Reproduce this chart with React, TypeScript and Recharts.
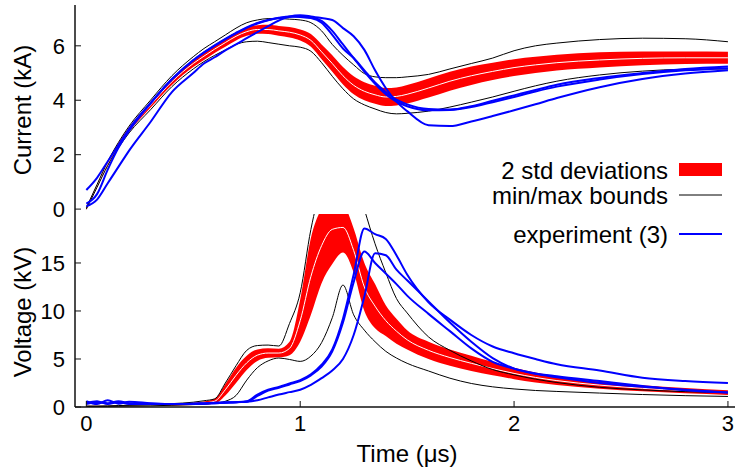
import { ComposedChart, Area, Line, XAxis, YAxis } from 'recharts';

// time axis, microseconds
const TIME = [0, 0.05, 0.1, 0.15, 0.2, 0.3, 0.4, 0.5, 0.55, 0.6, 0.65, 0.7, 0.75, 0.8, 0.85, 0.9, 0.95, 1.0, 1.05, 1.1, 1.15, 1.2, 1.25, 1.3, 1.35, 1.4, 1.45, 1.5, 1.6, 1.7, 1.8, 1.9, 2.0, 2.1, 2.2, 2.4, 2.6, 2.8, 3.0];

// current (kA)
const CURRENT_MEAN = [0.02, 0.85, 1.68, 2.35, 2.92, 3.82, 4.68, 5.35, 5.62, 5.88, 6.12, 6.35, 6.52, 6.6, 6.6, 6.55, 6.5, 6.4, 6.2, 5.78, 5.35, 4.9, 4.55, 4.33, 4.2, 4.12, 4.14, 4.22, 4.45, 4.7, 4.9, 5.06, 5.2, 5.3, 5.38, 5.48, 5.54, 5.56, 5.56];
const CURRENT_SPREAD = [0.05, 0.06, 0.07, 0.08, 0.09, 0.1, 0.12, 0.13, 0.14, 0.14, 0.15, 0.15, 0.15, 0.16, 0.17, 0.18, 0.19, 0.2, 0.23, 0.27, 0.3, 0.32, 0.33, 0.33, 0.33, 0.33, 0.33, 0.34, 0.35, 0.35, 0.34, 0.32, 0.31, 0.3, 0.29, 0.28, 0.25, 0.23, 0.22];
const CURRENT_MIN = [0.0, 0.8, 1.6, 2.25, 2.8, 3.65, 4.5, 5.15, 5.42, 5.65, 5.85, 6.05, 6.15, 6.17, 6.12, 6.06, 6.0, 5.95, 5.8, 5.38, 4.88, 4.42, 4.05, 3.83, 3.68, 3.55, 3.5, 3.52, 3.6, 3.75, 3.93, 4.12, 4.33, 4.53, 4.7, 4.93, 5.07, 5.14, 5.15];
const CURRENT_MAX = [0.05, 0.9, 1.75, 2.45, 3.05, 4.0, 4.9, 5.6, 5.9, 6.15, 6.4, 6.65, 6.85, 6.95, 7.0, 7.0, 6.98, 6.95, 6.85, 6.55, 6.05, 5.65, 5.3, 4.98, 4.86, 4.83, 4.83, 4.86, 4.95, 5.15, 5.35, 5.55, 5.82, 6.0, 6.1, 6.23, 6.28, 6.26, 6.15];
const CURRENT_EXP1 = [0.7, 1.15, 1.75, 2.35, 2.95, 3.9, 4.78, 5.48, 5.76, 6.02, 6.26, 6.48, 6.68, 6.84, 6.95, 7.03, 7.08, 7.06, 7.02, 6.85, 6.4, 5.9, 5.55, 5.1, 4.65, 4.3, 4.02, 3.85, 3.68, 3.66, 3.78, 3.98, 4.18, 4.38, 4.57, 4.82, 5.0, 5.15, 5.24];
const CURRENT_EXP2 = [0.2, 0.55, 1.45, 2.25, 2.88, 3.88, 4.76, 5.46, 5.75, 6.0, 6.24, 6.46, 6.66, 6.82, 6.94, 7.02, 7.06, 7.1, 7.04, 6.92, 6.55, 6.05, 5.55, 5.05, 4.6, 4.22, 3.95, 3.78, 3.63, 3.64, 3.75, 3.93, 4.12, 4.32, 4.5, 4.76, 4.96, 5.1, 5.18];
const CURRENT_EXP3 = [0.1, 0.35, 0.95, 1.55, 2.15, 3.2, 4.3, 5.0, 5.35, 5.58, 5.83, 6.05, 6.28, 6.5, 6.72, 6.93, 7.08, 7.12, 7.08, 7.02, 6.95, 6.65, 6.35, 5.85, 5.1, 4.45, 3.95, 3.6, 3.08, 3.05, 3.22, 3.42, 3.63, 3.85, 4.08, 4.48, 4.78, 4.98, 5.1];

// voltage (kV)
const VOLTAGE_MEAN = [0.08, 0.08, 0.09, 0.1, 0.12, 0.16, 0.22, 0.32, 0.42, 0.6, 1.8, 3.3, 4.6, 5.4, 5.62, 5.62, 6.1, 9.0, 13.6, 16.8, 18.5, 18.7, 16.3, 12.5, 10.5, 9.0, 7.9, 7.0, 5.9, 5.15, 4.55, 4.0, 3.5, 3.08, 2.75, 2.28, 1.95, 1.7, 1.5];
const VOLTAGE_SPREAD = [0.05, 0.05, 0.05, 0.05, 0.05, 0.06, 0.08, 0.12, 0.15, 0.25, 0.6, 0.8, 0.75, 0.6, 0.5, 0.45, 0.7, 2.2, 4.0, 3.9, 3.6, 2.6, 2.3, 2.5, 2.3, 1.6, 1.3, 1.0, 0.9, 0.85, 0.8, 0.7, 0.6, 0.52, 0.46, 0.38, 0.32, 0.28, 0.25];
const VOLTAGE_MIN = [0.05, 0.05, 0.06, 0.08, 0.1, 0.12, 0.18, 0.25, 0.3, 0.4, 0.6, 1.2, 2.8, 4.1, 4.8, 5.1, 4.95, 4.75, 5.3, 6.7, 9.3, 12.7, 9.6, 8.0, 6.8, 5.8, 5.1, 4.55, 3.75, 3.0, 2.45, 2.1, 1.88, 1.72, 1.62, 1.45, 1.3, 1.18, 1.1];
const VOLTAGE_MAX = [0.1, 0.1, 0.12, 0.15, 0.18, 0.25, 0.35, 0.5, 0.65, 0.85, 2.5, 4.3, 5.9, 6.4, 6.45, 6.35, 8.7, 11.9, 18.5, 23, 25, 25.5, 24.5, 20.6, 17.0, 14.0, 11.3, 9.8, 7.3, 5.9, 4.8, 3.9, 3.35, 2.9, 2.55, 2.05, 1.78, 1.6, 1.5];
const VOLTAGE_EXP1 = [0.6, 0.3, 0.7, 0.35, 0.55, 0.4, 0.3, 0.35, 0.35, 0.4, 0.45, 0.5, 0.6, 1.3, 1.8, 2.1, 2.45, 2.8, 3.4, 4.4, 6.0, 9.2, 13.8, 18.6, 18.0, 17.5, 15.8, 13.8, 10.9, 9.1, 7.5, 6.3, 5.6, 5.0, 4.45, 3.8, 3.05, 2.7, 2.5];
const VOLTAGE_EXP2 = [0.4, 0.6, 0.3, 0.5, 0.3, 0.35, 0.3, 0.3, 0.35, 0.4, 0.45, 0.5, 0.55, 1.15, 1.7, 2.0, 2.35, 2.7, 3.3, 4.2, 5.8, 8.8, 13.0, 16.2, 15.0, 13.9, 12.8, 11.6, 9.7, 7.9, 6.1, 4.7, 4.0, 3.5, 3.2, 2.7, 2.2, 1.75, 1.5];
const VOLTAGE_EXP3 = [0.3, 0.5, 0.4, 0.6, 0.4, 0.3, 0.3, 0.35, 0.4, 0.45, 0.5, 0.5, 0.55, 0.7, 1.0, 1.3, 1.55, 1.8, 2.3, 3.0, 3.8, 5.0, 7.5, 11.5, 16.0, 15.8, 14.3, 13.2, 11.0, 8.8, 6.8, 5.1, 4.0, 3.45, 3.1, 2.5, 2.1, 1.8, 1.5];

const X_TICKS = [0, 1, 2, 3];
const CURRENT_TICKS = [0, 2, 4, 6];
const VOLTAGE_TICKS = [0, 5, 10, 15];

const rows = TIME.map((t, i) => ({
  t,
  iMean: CURRENT_MEAN[i],
  iBand: [CURRENT_MEAN[i] - CURRENT_SPREAD[i], CURRENT_MEAN[i] + CURRENT_SPREAD[i]],
  iMin: CURRENT_MIN[i],
  iMax: CURRENT_MAX[i],
  i1: CURRENT_EXP1[i],
  i2: CURRENT_EXP2[i],
  i3: CURRENT_EXP3[i],
  vMean: VOLTAGE_MEAN[i],
  vBand: [VOLTAGE_MEAN[i] - VOLTAGE_SPREAD[i], VOLTAGE_MEAN[i] + VOLTAGE_SPREAD[i]],
  vMin: VOLTAGE_MIN[i],
  vMax: VOLTAGE_MAX[i],
  v1: VOLTAGE_EXP1[i],
  v2: VOLTAGE_EXP2[i],
  v3: VOLTAGE_EXP3[i],
}));

const FONT = '"Liberation Sans", Arial, Helvetica, sans-serif';
const FRAME = '#111';
const X_DOMAIN: [number, number] = [-0.053, 3.033];
const tickStyle = { fill: '#000', fontSize: 22, fontFamily: FONT };

function Series({ prefix }: { prefix: 'i' | 'v' }) {
  const common = { xAxisId: 'b', yAxisId: 'l', type: 'monotone' as const, dot: false, activeDot: false, isAnimationActive: false };
  return [
    <Area key="band" {...common} dataKey={`${prefix}Band`} stroke="none" fill="#ff0000" fillOpacity={1} />,
    <Line key="mean" {...common} dataKey={`${prefix}Mean`} stroke="#ffffff" strokeWidth={1} />,
    <Line key="min" {...common} dataKey={`${prefix}Min`} stroke="#000" strokeWidth={1} />,
    <Line key="max" {...common} dataKey={`${prefix}Max`} stroke="#000" strokeWidth={1} />,
    <Line key="e1" {...common} dataKey={`${prefix}1`} stroke="#0000ff" strokeWidth={2} />,
    <Line key="e2" {...common} dataKey={`${prefix}2`} stroke="#0000ff" strokeWidth={2} />,
    <Line key="e3" {...common} dataKey={`${prefix}3`} stroke="#0000ff" strokeWidth={2} />,
  ];
}

export default function App() {
  const axisLine = { stroke: FRAME, strokeWidth: 1.5 };
  return (
    <div style={{ position: 'absolute', left: 0, top: 0, width: 735, height: 475, background: '#fff', fontFamily: FONT }}>
      {/* current panel: plot spans y 5..214, extra bottom room keeps the "0" label inside the svg */}
      <div style={{ position: 'absolute', left: 0, top: 0 }}>
        <ComposedChart width={735} height={232} data={rows} margin={{ top: 5, right: 0, bottom: 18, left: 0 }}>
          <XAxis xAxisId="b" dataKey="t" type="number" domain={X_DOMAIN} allowDataOverflow ticks={X_TICKS}
            height={0} tick={false} tickLine={false} axisLine={axisLine} />
          <XAxis xAxisId="top" orientation="top" dataKey="t" type="number" domain={X_DOMAIN} allowDataOverflow
            height={0} tick={false} tickLine={false} axisLine={axisLine} />
          <YAxis yAxisId="l" type="number" domain={[-0.18, 7.5]} allowDataOverflow ticks={CURRENT_TICKS} interval={0} width={75}
            tickSize={-6} tickMargin={16} tick={tickStyle} tickLine={{ stroke: FRAME }} axisLine={axisLine} />
          <YAxis yAxisId="r" orientation="right" type="number" domain={[-0.18, 7.5]} allowDataOverflow ticks={CURRENT_TICKS} interval={0} width={0}
            tickSize={-6} tickFormatter={() => ''} tickLine={{ stroke: FRAME }} axisLine={false} />
          {Series({ prefix: 'i' })}
        </ComposedChart>
      </div>

      {/* voltage panel */}
      <div style={{ position: 'absolute', left: 0, top: 212 }}>
        <ComposedChart width={735} height={263} data={rows} margin={{ top: 2, right: 0, bottom: 38, left: 0 }}>
          <XAxis xAxisId="b" dataKey="t" type="number" domain={X_DOMAIN} allowDataOverflow ticks={X_TICKS} interval={0} height={30}
            tickSize={-6} tickMargin={14} tick={tickStyle} tickLine={{ stroke: FRAME }} axisLine={axisLine} />
          <YAxis yAxisId="l" type="number" domain={[0, 20.1]} allowDataOverflow ticks={VOLTAGE_TICKS} interval={0} width={75}
            tickSize={-6} tickMargin={16} tick={tickStyle} tickLine={{ stroke: FRAME }} axisLine={axisLine} />
          <YAxis yAxisId="r" orientation="right" type="number" domain={[0, 20.1]} allowDataOverflow ticks={VOLTAGE_TICKS} interval={0} width={0}
            tickSize={-6} tickFormatter={() => ''} tickLine={{ stroke: FRAME }} axisLine={false} />
          {Series({ prefix: 'v' })}
        </ComposedChart>
      </div>

      {/* axis titles */}
      <div style={{ position: 'absolute', left: 23, top: 110, transform: 'translate(-50%, -50%) rotate(-90deg)', whiteSpace: 'nowrap', fontSize: 24, color: '#000' }}>
        Current (kA)
      </div>
      <div style={{ position: 'absolute', left: 23, top: 312, transform: 'translate(-50%, -50%) rotate(-90deg)', whiteSpace: 'nowrap', fontSize: 24, color: '#000' }}>
        Voltage (kV)
      </div>
      <div style={{ position: 'absolute', left: 407, top: 454, transform: 'translate(-50%, -50%)', whiteSpace: 'nowrap', fontSize: 24, color: '#000' }}>
        Time (μs)
      </div>

      {/* key */}
      <svg width={735} height={475} style={{ position: 'absolute', left: 0, top: 0, pointerEvents: 'none' }}>
        <g fontFamily={FONT} fontSize={24} fill="#000" textAnchor="end">
          <text x={668} y={170} dominantBaseline="central">2 std deviations</text>
          <text x={668} y={195} dominantBaseline="central">min/max bounds</text>
          <text x={668} y={234} dominantBaseline="central">experiment (3)</text>
        </g>
        <rect x={679} y={163} width={43} height={13} fill="#ff0000" />
        <line x1={679} x2={722} y1={195} y2={195} stroke="#000" strokeWidth={1} />
        <line x1={679} x2={722} y1={234} y2={234} stroke="#0000ff" strokeWidth={2} />
      </svg>
    </div>
  );
}
